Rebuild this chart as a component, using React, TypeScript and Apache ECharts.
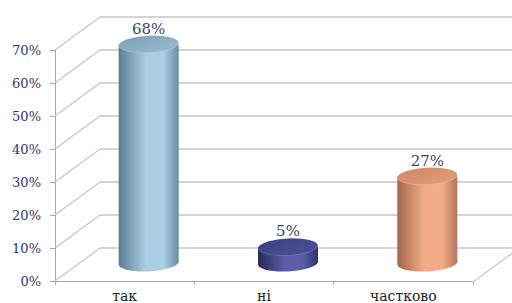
import React, { useEffect, useRef } from "react";
import * as echarts from "echarts";

const categories = ["так", "ні", "частково"];
const values = [68, 5, 27];
const yTicks = [0, 10, 20, 30, 40, 50, 60, 70];

const bodyColors = [
  ["#5a7c93", "#aacee4", "#6a8ca3"],
  ["#28285a", "#5b5da8", "#303068"],
  ["#a5674a", "#f2ad86", "#b3755a"],
];
const topColors = [
  ["#7f9fb6", "#9bbbd1"],
  ["#3c3e80", "#50529a"],
  ["#cf8866", "#e49d7a"],
];

const FONT = "DejaVu Serif";
const DX = 45;
const DY = 33;

export default function App() {
  const ref = useRef<HTMLDivElement>(null);
  useEffect(() => {
    if (!ref.current) return;
    const chart = echarts.init(ref.current, undefined, { renderer: "svg" });
    chart.setOption({
      animation: false,
      grid: { left: 55, right: 39, top: 50, bottom: 22 },
      xAxis: {
        type: "category",
        data: categories,
        boundaryGap: true,
        axisLine: { show: true, lineStyle: { color: "#a8a8a8", width: 1 } },
        axisTick: { show: true, length: 4, lineStyle: { color: "#a8a8a8" } },
        axisLabel: { margin: 8, color: "#202030", fontFamily: FONT, fontSize: 14 },
        splitLine: { show: false },
      },
      yAxis: {
        type: "value",
        min: 0,
        max: 70,
        interval: 10,
        axisLine: { show: true, lineStyle: { color: "#a8a8a8", width: 1 } },
        axisTick: { show: true, length: 5, lineStyle: { color: "#a8a8a8" } },
        axisLabel: {
          formatter: "{value}%",
          margin: 14,
          color: "#2e3766",
          fontFamily: FONT,
          fontSize: 13,
        },
        splitLine: { show: false },
      },
      series: [
        {
          type: "custom",
          clip: false,
          z: 1,
          silent: true,
          data: yTicks.map((v) => [0, v]),
          renderItem: (params: any, api: any) => {
            const v = api.value(1);
            const y = api.coord([0, v])[1];
            const x0 = params.coordSys.x;
            const W = api.getWidth();
            const children: any[] = [
              {
                type: "line",
                shape: { x1: x0, y1: y, x2: x0 + DX, y2: y - DY },
                style: { stroke: "#c6c6c6", lineWidth: 1.2 },
              },
              {
                type: "line",
                shape: { x1: x0 + DX, y1: y - DY, x2: W, y2: y - DY },
                style: { stroke: "#c6c6c6", lineWidth: 1.6 },
              },
            ];
            if (v === 0) {
              const xr = params.coordSys.x + params.coordSys.width;
              children.push({
                type: "line",
                shape: { x1: xr, y1: y + 1, x2: xr + DX, y2: y + 1 - DY },
                style: { stroke: "#c6c6c6", lineWidth: 1.2 },
              });
            }
            return { type: "group", children };
          },
        },
        {
          type: "custom",
          clip: false,
          z: 3,
          data: values.map((v, i) => [i, v]),
          renderItem: (params: any, api: any) => {
            const i = api.value(0);
            const v = api.value(1);
            const base = api.coord([i, 0]);
            const top = api.coord([i, v]);
            const cx = base[0] + 24;
            const by = base[1] - 18;
            const ty = by - (base[1] - top[1]) * 0.975;
            const rx = 30;
            const ry = 8.5;
            const bc = bodyColors[i];
            const tc = topColors[i];
            const bodyFill = new echarts.graphic.LinearGradient(0, 0, 1, 0, [
              { offset: 0, color: bc[0] },
              { offset: 0.45, color: bc[1] },
              { offset: 0.75, color: bc[1] },
              { offset: 1, color: bc[2] },
            ]);
            const topFill = new echarts.graphic.LinearGradient(0, 0, 1, 1, [
              { offset: 0, color: tc[0] },
              { offset: 1, color: tc[1] },
            ]);
            return {
              type: "group",
              children: [
                {
                  type: "ellipse",
                  x: cx,
                  y: by,
                  rotation: 0.05,
                  shape: { cx: 0, cy: 0, rx, ry },
                  style: { fill: bodyFill },
                },
                {
                  type: "rect",
                  shape: { x: cx - rx, y: ty, width: rx * 2, height: by - ty },
                  style: { fill: bodyFill },
                },
                {
                  type: "ellipse",
                  x: cx,
                  y: ty,
                  rotation: 0.05,
                  shape: { cx: 0, cy: 0, rx, ry },
                  style: { fill: topFill, stroke: "rgba(255,255,255,0.25)", lineWidth: 0.6 },
                },
                {
                  type: "text",
                  style: {
                    text: v + "%",
                    x: cx,
                    y: ty - ry - 7,
                    align: "center",
                    verticalAlign: "middle",
                    fill: "#3a4560",
                    font: "15px " + FONT,
                  },
                },
              ],
            };
          },
        },
      ],
    });
    return () => chart.dispose();
  }, []);
  return <div ref={ref} style={{ width: 512, height: 303, position: "absolute", left: 0, top: 0 }} />;
}
